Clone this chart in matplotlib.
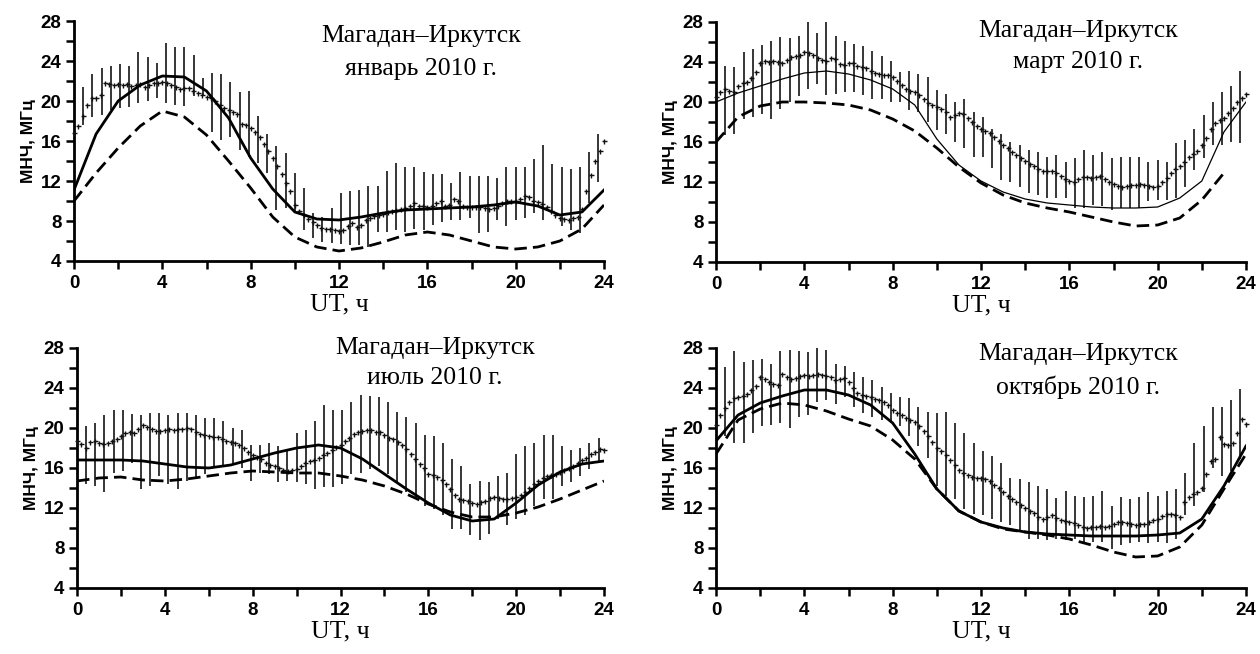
import numpy as np
import matplotlib
matplotlib.use('Agg')
import matplotlib.pyplot as plt
from matplotlib.ticker import MultipleLocator

# ---------------- data ----------------
hours = list(range(25))                      # model curves, hourly
t_dots = np.linspace(0, 24, 121)             # measured medians, every 0.2 h
t_bars = np.arange(1, 58) * 25.0 / 60.0      # error bars, every 25 min

title_line1 = "Магадан–Иркутск"
months = ["январь 2010 г.", "март 2010 г.", "июль 2010 г.", "октябрь 2010 г."]

jan_med = [16.8, 17.5, 18.5, 19.6, 20.3, 20.3, 20.6, 21.8, 21.7, 21.6,
           21.7, 21.6, 21.7, 21.5, 21.6, 21.7, 21.4, 21.6, 21.8, 21.8,
           21.9, 21.8, 21.6, 21.4, 21.2, 21.3, 21.3, 21.0, 20.8, 20.6,
           20.4, 20.3, 20.0, 19.6, 19.3, 19.1, 18.9, 18.7, 17.7, 17.6,
           17.3, 16.9, 16.4, 15.7, 15.0, 14.3, 13.5, 12.7, 11.8, 11.0,
           9.6, 9.0, 8.6, 8.2, 7.9, 7.6, 7.3, 7.2, 7.2, 7.1,
           7.0, 7.1, 7.5, 7.8, 7.4, 7.6, 8.1, 8.3, 8.5, 8.6,
           8.7, 8.9, 9.0, 9.1, 9.2, 9.3, 9.5, 9.8, 9.5, 9.5,
           9.4, 9.5, 9.8, 10.0, 9.5, 9.6, 10.2, 10.0, 9.5, 9.4,
           9.4, 9.4, 9.4, 9.3, 9.2, 9.3, 9.5, 9.8, 10.0, 10.0,
           10.0, 10.2, 10.5, 10.4, 10.0, 9.9, 9.7, 9.4, 9.0, 8.6,
           8.3, 8.2, 8.1, 8.3, 8.4, 9.2, 11.0, 12.6, 14.0, 15.0,
           16.0]
jan_lo = [17.6, 18.4, 18.6, 19.1, 19.3, 19.4, 19.8, 20.0, 20.3, 19.8,
          19.6, 19.5, 20.5, 20.6, 16.9, 16.1, 16.4, 15.1, 14.4, 13.8,
          12.8, 9.1, 9.3, 8.8, 7.1, 6.3, 5.9, 5.8, 5.7, 5.6,
          5.6, 5.4, 6.9, 6.9, 7.1, 6.9, 7.2, 7.1, 7.6, 7.9,
          8.1, 8.1, 8.3, 6.8, 6.9, 8.1, 7.5, 8.1, 8.3, 8.8,
          8.1, 8.8, 7.5, 7.1, 6.8, 9.8, 11.9]
jan_hi = [21.4, 22.7, 23.3, 23.5, 23.7, 23.5, 24.9, 24.4, 23.8, 25.8,
          25.4, 25.4, 24.6, 22.3, 22.8, 22.7, 21.9, 20.9, 21.0, 18.5,
          16.7, 15.5, 14.8, 12.8, 11.3, 8.8, 8.4, 9.3, 10.8, 11.0,
          11.1, 11.5, 11.5, 13.0, 13.8, 13.4, 13.4, 12.9, 12.7, 12.7,
          11.8, 12.9, 12.5, 12.5, 12.5, 12.3, 13.4, 13.4, 13.4, 14.2,
          15.6, 13.7, 13.4, 13.2, 13.4, 14.9, 16.7]
jan_solid = [11.1, 16.7, 20.0, 21.6, 22.5, 22.4, 21.0, 18.3, 14.3, 11.2,
             8.9, 8.2, 8.1, 8.4, 8.8, 9.1, 9.2, 9.3, 9.4, 9.6,
             9.9, 9.5, 8.6, 8.9, 11.1]
jan_dash = [10.0, 12.8, 15.3, 17.5, 19.0, 18.4, 16.6, 14.0, 11.3, 8.4,
            6.4, 5.4, 5.0, 5.3, 5.9, 6.6, 6.9, 6.6, 6.0, 5.4,
            5.2, 5.4, 6.0, 7.2, 9.6]

mar_med = [20.5, 21.0, 21.3, 21.1, 21.0, 21.6, 21.9, 22.0, 22.4, 23.0,
           23.9, 24.1, 24.0, 24.1, 24.0, 23.9, 24.2, 24.5, 24.6, 24.7,
           25.0, 24.9, 24.7, 24.4, 24.2, 24.1, 24.4, 24.3, 23.8, 23.7,
           23.9, 23.9, 23.6, 23.5, 23.4, 23.1, 22.9, 22.8, 22.7, 22.7,
           22.5, 22.1, 21.7, 21.3, 21.1, 21.0, 20.7, 20.3, 19.9, 19.7,
           19.5, 19.3, 19.0, 18.5, 18.7, 18.9, 18.8, 18.4, 18.0, 17.6,
           17.3, 17.1, 16.9, 16.5, 16.1, 15.7, 15.4, 15.0, 14.7, 14.4,
           14.1, 13.8, 13.6, 13.3, 13.1, 13.1, 13.1, 12.9, 12.6, 12.3,
           12.1, 12.0, 12.3, 12.5, 12.5, 12.4, 12.5, 12.6, 12.3, 12.0,
           11.8, 11.6, 11.5, 11.6, 11.7, 11.7, 11.8, 11.7, 11.6, 11.5,
           11.6, 12.0, 12.4, 12.9, 13.3, 13.6, 14.0, 14.5, 14.8, 15.1,
           15.7, 16.4, 17.3, 17.9, 18.2, 18.4, 18.9, 19.4, 20.0, 20.4,
           20.8]
mar_lo = [16.7, 16.8, 18.3, 18.5, 18.8, 18.3, 19.3, 20.0, 20.6, 21.3,
          21.8, 20.7, 20.8, 21.0, 21.0, 20.7, 20.3, 20.3, 20.0, 20.0,
          19.2, 19.0, 18.0, 17.2, 16.8, 16.0, 15.4, 14.5, 14.5, 13.4,
          12.2, 12.0, 11.5, 10.9, 10.7, 10.4, 10.4, 10.4, 9.4, 9.4,
          9.7, 9.6, 9.2, 9.4, 9.4, 9.4, 10.1, 10.2, 10.2, 10.4,
          11.5, 13.2, 14.4, 15.7, 15.7, 16.0, 15.9]
mar_hi = [23.6, 23.5, 25.0, 25.3, 25.7, 26.1, 26.5, 26.4, 26.6, 28.1,
          26.9, 28.1, 26.6, 26.1, 25.8, 25.6, 25.1, 24.6, 24.1, 23.0,
          23.1, 22.8, 22.5, 21.2, 20.8, 20.0, 20.3, 19.0, 18.5, 17.3,
          16.8, 16.0, 15.7, 15.2, 15.0, 14.5, 14.7, 14.0, 14.4, 15.2,
          14.7, 15.0, 14.4, 14.5, 14.5, 14.5, 14.0, 14.2, 14.0, 15.9,
          16.2, 17.3, 18.7, 20.0, 21.0, 21.6, 23.1]
mar_solid = [20.0, 20.9, 21.6, 22.3, 22.9, 23.1, 22.8, 22.2, 21.3, 19.7,
             16.3, 13.7, 12.1, 11.0, 10.3, 9.9, 9.7, 9.5, 9.4, 9.4,
             9.5, 10.4, 12.1, 17.0, 20.0]
mar_dash = [16.0, 18.5, 19.6, 20.0, 20.0, 19.9, 19.7, 19.2, 18.3, 17.1,
            15.4, 13.5, 11.9, 10.7, 9.9, 9.4, 9.0, 8.5, 8.0, 7.6,
            7.7, 8.4, 10.2, 12.9]

jul_med = [18.7, 18.4, 18.0, 18.6, 18.7, 18.5, 18.4, 18.5, 18.7, 18.9,
           19.2, 19.5, 19.6, 19.5, 19.9, 20.3, 20.1, 19.9, 19.7, 19.7,
           19.8, 19.9, 19.8, 19.9, 19.9, 20.0, 19.9, 19.6, 19.4, 19.3,
           19.2, 19.1, 19.1, 18.9, 18.7, 18.6, 18.5, 18.3, 18.0, 17.6,
           17.3, 17.1, 16.9, 16.5, 16.3, 16.2, 16.0, 15.8, 15.7, 15.8,
           15.9, 16.2, 16.5, 16.7, 16.8, 17.0, 17.3, 17.5, 17.8, 18.1,
           18.3, 18.7, 19.0, 19.4, 19.6, 19.7, 19.8, 19.8, 19.6, 19.6,
           19.3, 19.0, 18.9, 18.6, 18.3, 17.9, 17.4, 16.9, 16.4, 16.0,
           15.4, 15.3, 15.1, 14.8, 14.4, 13.9, 13.3, 12.9, 12.8, 12.7,
           12.5, 12.4, 12.6, 12.7, 13.0, 13.1, 13.0, 12.9, 12.9, 13.0,
           13.1, 13.3, 13.6, 14.0, 14.4, 14.7, 15.0, 15.2, 15.3, 15.4,
           15.6, 15.8, 16.0, 16.2, 16.5, 16.8, 17.0, 17.4, 17.6, 17.9,
           17.8]
jul_lo = [14.4, 14.2, 13.6, 15.5, 15.7, 16.5, 13.9, 14.2, 15.2, 14.4,
          13.9, 14.7, 14.9, 15.4, 16.2, 16.2, 16.4, 16.0, 14.7, 15.5,
          15.4, 14.6, 14.7, 14.6, 14.4, 13.9, 14.1, 14.1, 14.4, 15.4,
          15.5, 15.9, 16.2, 15.4, 14.6, 13.6, 12.9, 12.2, 11.9, 11.3,
          9.9, 9.9, 9.3, 8.8, 9.4, 10.9, 10.3, 10.9, 11.3, 12.2,
          12.9, 12.9, 14.2, 14.6, 15.2, 15.9, 16.7]
jul_hi = [20.2, 20.5, 21.3, 21.8, 21.8, 21.4, 21.3, 21.5, 21.5, 21.3,
          21.5, 21.5, 21.3, 21.0, 21.0, 20.7, 20.0, 19.8, 18.3, 18.3,
          18.5, 18.2, 17.7, 19.5, 19.8, 20.7, 22.3, 21.8, 21.8, 22.6,
          23.3, 23.2, 23.1, 22.6, 21.6, 21.1, 20.5, 19.3, 19.2, 18.5,
          16.9, 16.2, 14.4, 14.7, 14.6, 15.2, 15.5, 17.4, 18.2, 18.5,
          19.3, 19.3, 18.2, 17.8, 18.0, 18.5, 19.0]
jul_solid = [16.8, 16.8, 16.8, 16.7, 16.4, 16.1, 16.0, 16.3, 16.9, 17.5,
             18.0, 18.3, 18.0, 16.9, 15.4, 13.9, 12.5, 11.3, 10.7, 10.9,
             12.5, 14.3, 15.6, 16.4, 16.7]
jul_dash = [14.7, 15.0, 15.1, 14.8, 14.7, 14.9, 15.2, 15.5, 15.7, 15.6,
            15.5, 15.5, 15.2, 14.8, 14.2, 13.4, 12.4, 11.6, 11.1, 11.1,
            11.5, 12.1, 12.9, 13.8, 14.7]

oct_med = [20.3, 21.3, 22.0, 22.6, 23.0, 23.1, 23.2, 23.4, 23.8, 24.2,
           25.1, 24.9, 24.6, 24.4, 24.3, 25.4, 25.1, 24.9, 25.0, 25.2,
           25.3, 25.2, 25.3, 25.4, 25.3, 25.2, 25.1, 24.8, 24.9, 25.0,
           24.6, 24.0, 23.5, 23.3, 23.2, 23.1, 22.9, 22.8, 22.6, 22.3,
           21.8, 21.5, 21.3, 21.0, 20.8, 20.6, 20.2, 19.7, 19.2, 18.6,
           18.0, 17.7, 17.3, 16.8, 16.3, 15.8, 15.5, 15.3, 15.1, 15.0,
           15.0, 14.9, 14.7, 14.3, 14.0, 13.6, 13.2, 12.9, 12.6, 12.3,
           12.0, 11.7, 11.5, 11.1, 10.9, 11.1, 11.3, 11.0, 10.8, 10.7,
           10.6, 10.5, 10.3, 10.1, 10.0, 10.1, 10.1, 10.2, 10.1, 10.2,
           10.4, 10.6, 10.6, 10.5, 10.4, 10.3, 10.4, 10.4, 10.6, 10.8,
           10.9, 11.2, 11.4, 11.4, 11.3, 11.1, 12.6, 13.1, 13.4, 13.6,
           14.0, 15.4, 16.7, 16.9, 19.1, 18.4, 18.3, 18.5, 19.5, 20.9,
           20.4]
oct_lo = [19.2, 18.5, 18.5, 19.5, 20.2, 20.3, 20.5, 20.0, 21.1, 21.3,
          22.6, 22.8, 22.4, 23.1, 22.1, 21.5, 21.1, 20.8, 20.5, 20.2,
          19.2, 18.2, 17.0, 14.2, 13.2, 12.9, 11.9, 11.4, 11.3, 10.9,
          10.6, 10.3, 9.8, 8.9, 8.9, 8.8, 8.9, 8.8, 8.9, 8.6,
          8.6, 8.6, 7.9, 8.3, 8.5, 8.6, 8.5, 8.6, 8.5, 8.9,
          11.3, 12.2, 13.6, 16.0, 15.2, 15.7, 16.9]
oct_hi = [26.1, 27.7, 26.6, 26.8, 26.9, 26.4, 27.7, 27.8, 27.7, 27.6,
          28.0, 27.8, 26.4, 26.2, 25.6, 25.1, 24.8, 24.1, 23.5, 23.1,
          23.0, 22.1, 21.6, 21.5, 21.6, 20.5, 19.5, 18.5, 17.7, 17.2,
          16.5, 15.0, 14.9, 14.6, 14.2, 13.9, 13.0, 13.7, 13.2, 13.1,
          13.2, 13.7, 12.2, 13.1, 12.9, 13.1, 13.6, 13.2, 13.7, 13.9,
          15.5, 18.5, 20.2, 22.1, 22.1, 22.8, 23.9]
oct_solid = [18.7, 21.3, 22.5, 23.2, 23.8, 23.8, 23.3, 22.3, 20.5, 17.4,
             13.9, 11.7, 10.6, 10.0, 9.6, 9.4, 9.3, 9.2, 9.2, 9.2,
             9.3, 9.5, 10.9, 14.2, 18.2]
oct_dash = [17.4, 20.8, 21.9, 22.5, 22.3, 21.7, 20.9, 20.2, 18.8, 16.9,
            13.9, 11.7, 10.6, 9.9, 9.6, 9.3, 8.9, 8.3, 7.6, 7.1,
            7.2, 8.1, 10.3, 13.9, 17.4]

# ---------------- figure ----------------
SANS = ['Liberation Sans', 'DejaVu Sans']
SERIF = ['Liberation Serif', 'DejaVu Serif']

fig = plt.figure(figsize=(12.6, 6.54), dpi=100)
fig.patch.set_facecolor('white')

panels = [
    dict(rect=[74/1260, 1-261/654, 530/1260, 240/654], med=jan_med, lo=jan_lo, hi=jan_hi,
         solid=jan_solid, dash=jan_dash, slw=2.0, month=months[0],
         tx=15.7, ty1=26.5, ty2=23.2),
    dict(rect=[716/1260, 1-262/654, 530/1260, 240/654], med=mar_med, lo=mar_lo, hi=mar_hi,
         solid=mar_solid, dash=mar_dash, slw=0.9, month=months[1],
         tx=16.4, ty1=27.1, ty2=24.0),
    dict(rect=[77/1260, 1-588/654, 527/1260, 240/654], med=jul_med, lo=jul_lo, hi=jul_hi,
         solid=jul_solid, dash=jul_dash, slw=2.0, month=months[2],
         tx=16.3, ty1=28.0, ty2=25.0),
    dict(rect=[716/1260, 1-588/654, 530/1260, 240/654], med=oct_med, lo=oct_lo, hi=oct_hi,
         solid=oct_solid, dash=oct_dash, slw=2.0, month=months[3],
         tx=16.4, ty1=27.4, ty2=24.1),
]

for p in panels:
    ax = fig.add_axes(p['rect'])
    ax.vlines(t_bars, p['lo'], p['hi'], color='black', lw=1.1, zorder=2)
    ax.plot(t_dots, p['med'], ls='none', marker='+', ms=3.6, mew=1.0,
            color='#111111', zorder=3, clip_on=False)
    ax.plot(hours, p['solid'], color='black', lw=p['slw'], zorder=4)
    ax.plot(hours[:len(p['dash'])], p['dash'], color='black', lw=2.0,
            ls=(0, (4.5, 2.2)), zorder=4)
    ax.set_xlim(0, 24)
    ax.set_ylim(4, 28)
    ax.xaxis.set_major_locator(MultipleLocator(4))
    ax.xaxis.set_minor_locator(MultipleLocator(2))
    ax.yaxis.set_major_locator(MultipleLocator(4))
    ax.yaxis.set_minor_locator(MultipleLocator(2))
    for s in ('top', 'right'):
        ax.spines[s].set_visible(False)
    for s in ('left', 'bottom'):
        ax.spines[s].set_linewidth(2.0)
    ax.tick_params(which='both', direction='out', length=6, width=1.8,
                   color='black')
    ax.tick_params(axis='x', which='major', pad=4)
    ax.tick_params(axis='y', which='major', pad=3)
    for lab in ax.get_xticklabels() + ax.get_yticklabels():
        lab.set_fontfamily(SANS)
        lab.set_fontweight('bold')
        lab.set_fontsize(13.5)
    ax.set_ylabel('МНЧ, МГц', family=SANS, fontweight='bold', fontsize=12.5,
                  labelpad=3)
    ax.set_xlabel('UT, ч', family=SERIF, fontsize=18.5, labelpad=1)
    ax.text(p['tx'], p['ty1'], title_line1, family=SERIF, fontsize=18.5,
            ha='center', va='center', zorder=5)
    ax.text(p['tx'], p['ty2'], p['month'], family=SERIF, fontsize=18.5,
            ha='center', va='center', zorder=5)

fig.savefig('out.png', dpi=100, facecolor='white')
